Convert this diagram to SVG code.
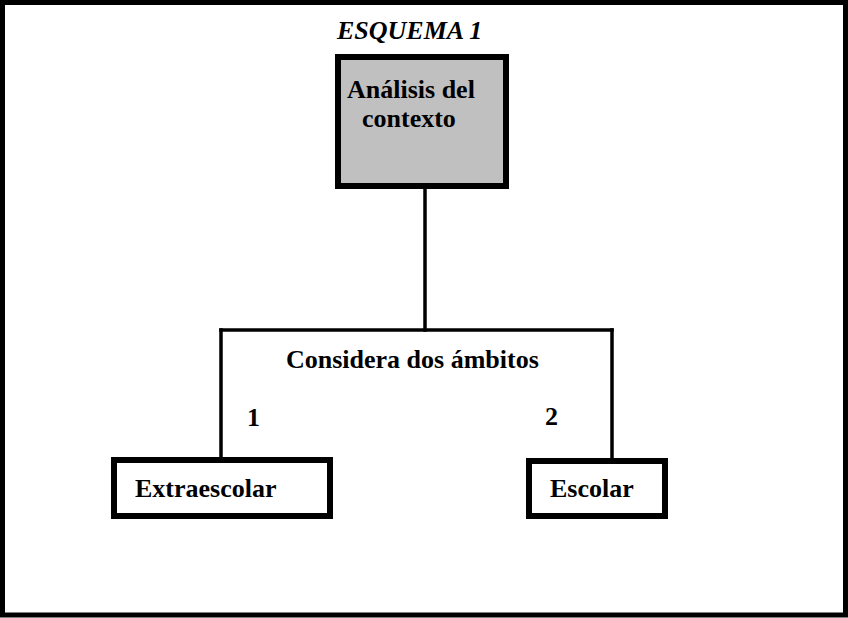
<svg xmlns="http://www.w3.org/2000/svg" width="848" height="618" viewBox="0 0 848 618">
<style>
  .t { font-family: "Liberation Serif", "Times New Roman", serif; font-weight: bold; font-size: 26px; fill: #000; }
  .box { stroke: #000; stroke-width: 6; }
  .conn { stroke: #000; stroke-width: 3.5; fill: none; stroke-linecap: square; }
</style>
<rect x="0" y="0" width="848" height="618" fill="#fff"/>
<rect x="2.5" y="2.5" width="843" height="612.5" fill="none" stroke="#000" stroke-width="5"/>
<text class="t" x="337" y="39" font-style="italic">ESQUEMA 1</text>
<g id="connectors">
  <line class="conn" x1="425" y1="189" x2="425" y2="330"/>
  <line class="conn" x1="221" y1="330" x2="612" y2="330"/>
  <line class="conn" x1="221" y1="330" x2="221" y2="457"/>
  <line class="conn" x1="612" y1="330" x2="612" y2="458"/>
</g>
<g id="analisis">
  <rect class="box" x="338" y="57" width="168" height="129" fill="#c0c0c0"/>
  <text class="t" x="347" y="98">Análisis del</text>
  <text class="t" x="362" y="127">contexto</text>
</g>
<g id="considera">
  <text class="t" x="286" y="368">Considera dos ámbitos</text>
</g>
<g id="label1"><text class="t" x="247" y="426">1</text></g>
<g id="label2"><text class="t" x="545" y="425">2</text></g>
<g id="extraescolar">
  <rect class="box" x="114" y="460" width="216" height="56" fill="#fff"/>
  <text class="t" x="135" y="497">Extraescolar</text>
</g>
<g id="escolar">
  <rect class="box" x="529" y="461" width="136" height="55" fill="#fff"/>
  <text class="t" x="550" y="497">Escolar</text>
</g>
</svg>
